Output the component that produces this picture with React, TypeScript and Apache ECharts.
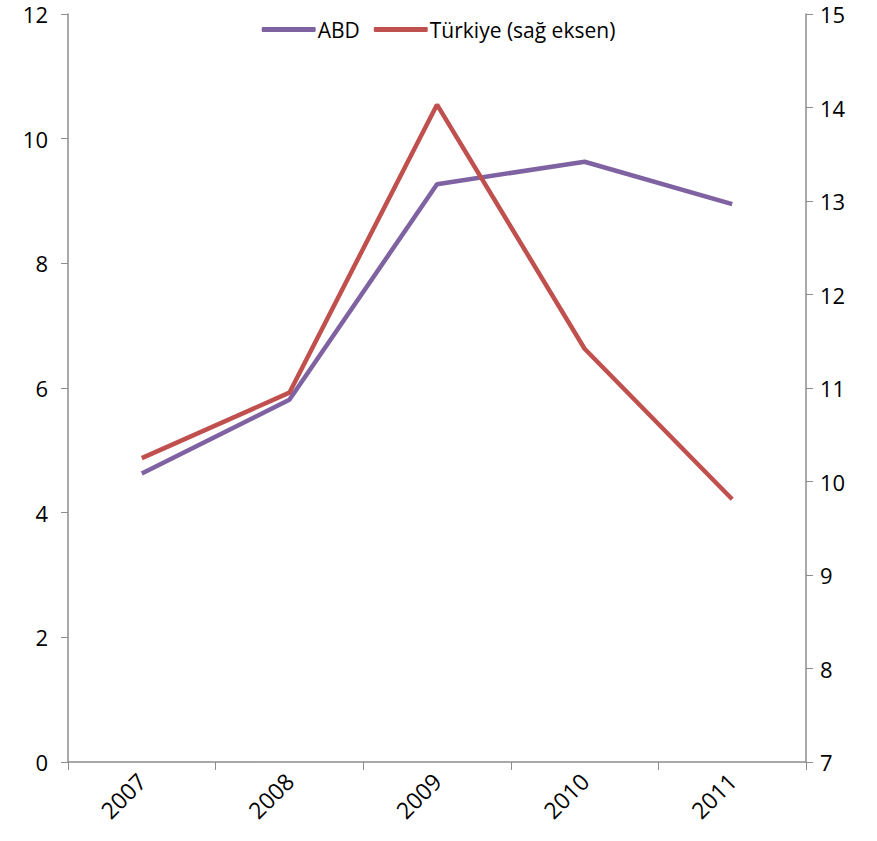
import React, { useEffect, useRef } from "react";
import * as echarts from "echarts";

const years = ["2007", "2008", "2009", "2010", "2011"];
const abd = [4.63, 5.81, 9.27, 9.63, 8.95];
const turkiye = [10.25, 10.95, 14.03, 11.42, 9.81];

const FONT = "'Open Sans', 'Noto Sans', sans-serif";
const AXIS = "#8c8c8c";
const FS = 22;

export default function App() {
  const ref = useRef<HTMLDivElement>(null);
  useEffect(() => {
    if (!ref.current) return;
    const chart = echarts.init(ref.current, undefined, { renderer: "svg" });
    chart.setOption({
      animation: false,
      grid: { left: 68, right: 71, top: 14, bottom: 79, containLabel: false },
      legend: {
        top: 14,
        left: "center",
        itemWidth: 54,
        itemHeight: 5,
        itemGap: 14,
        icon: "roundRect",
        textStyle: { fontFamily: FONT, fontSize: 21, color: "#000", padding: [0, 0, 0, -3] },
        data: ["ABD", "Türkiye (sağ eksen)"],
      },
      xAxis: {
        type: "category",
        data: years,
        boundaryGap: true,
        axisLine: { lineStyle: { color: AXIS, width: 1.5 } },
        axisTick: { show: true, alignWithLabel: false, length: 8, lineStyle: { color: AXIS } },
        axisLabel: { rotate: 45, fontFamily: FONT, fontSize: 23, color: "#000", margin: 15 },
        splitLine: { show: false },
      },
      yAxis: [
        {
          type: "value",
          min: 0,
          max: 12,
          interval: 2,
          position: "left",
          axisLine: { show: true, lineStyle: { color: AXIS, width: 1.5 } },
          axisTick: { show: true, length: 7, lineStyle: { color: AXIS } },
          axisLabel: { fontFamily: FONT, fontSize: FS, color: "#000", margin: 20 },
          splitLine: { show: false },
        },
        {
          type: "value",
          min: 7,
          max: 15,
          interval: 1,
          position: "right",
          axisLine: { show: true, lineStyle: { color: AXIS, width: 1.5 } },
          axisTick: { show: true, length: 7, lineStyle: { color: AXIS } },
          axisLabel: { fontFamily: FONT, fontSize: FS, color: "#000", margin: 14 },
          splitLine: { show: false },
        },
      ],
      series: [
        {
          name: "ABD",
          type: "line",
          yAxisIndex: 0,
          data: abd,
          symbol: "none",
          lineStyle: { color: "#7f62a1", width: 4.5 },
          itemStyle: { color: "#7f62a1" },
        },
        {
          name: "Türkiye (sağ eksen)",
          type: "line",
          yAxisIndex: 1,
          data: turkiye,
          symbol: "none",
          lineStyle: { color: "#c0504d", width: 4.5 },
          itemStyle: { color: "#c0504d" },
        },
      ],
    });
    return () => chart.dispose();
  }, []);
  return (
    <div
      ref={ref}
      style={{ position: "absolute", left: 0, top: 0, width: 877, height: 841 }}
    />
  );
}
